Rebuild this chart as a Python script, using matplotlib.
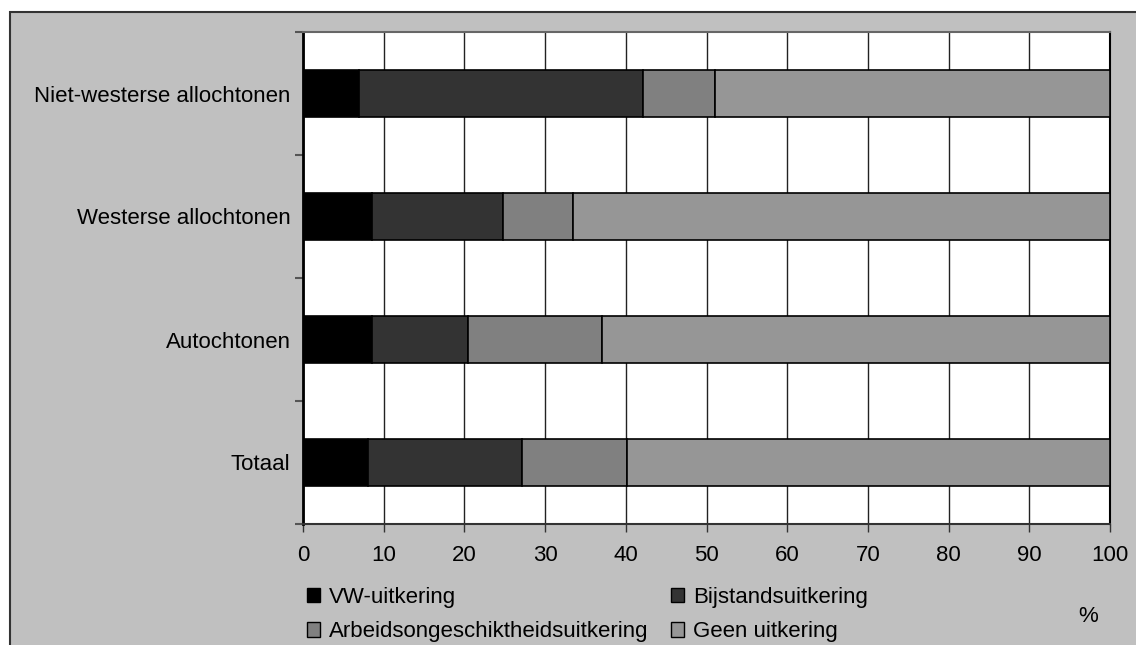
import matplotlib
matplotlib.use("Agg")
import matplotlib.pyplot as plt
from matplotlib.patches import Rectangle, Patch
import numpy as np

plt.rcParams['font.family'] = ['Liberation Sans', 'DejaVu Sans']

categories = ["Totaal", "Autochtonen", "Westerse allochtonen", "Niet-westerse allochtonen"]
series_names = ["VW-uitkering", "Bijstandsuitkering", "Arbeidsongeschiktheidsuitkering", "Geen uitkering"]
ww = [8.1, 8.6, 8.6, 7.0]
bijstand = [19.0, 11.8, 16.2, 35.1]
arbeid = [13.1, 16.6, 8.7, 8.9]
geen = [59.8, 63.0, 66.5, 49.0]
x_ticks = [0, 10, 20, 30, 40, 50, 60, 70, 80, 90, 100]
colors = ["#000000", "#333333", "#808080", "#969696"]

W, H = 1136, 645
fig = plt.figure(figsize=(W / 100, H / 100), dpi=100, facecolor="white")

# grey chart area with border
fig.patches.append(Rectangle((10 / W, -0.1), 1.2, 1 - 12 / H + 0.1, transform=fig.transFigure,
                             facecolor="#C0C0C0", edgecolor="#333333", linewidth=1.5, zorder=-10))

ax = fig.add_axes([303 / W, 1 - 524 / H, (1110 - 303) / W, (524 - 32) / H])
ax.set_zorder(5)
ax.set_facecolor("white")

y = np.arange(len(categories))
left = np.zeros(len(categories))
handles = []
for vals, c, name in zip([ww, bijstand, arbeid, geen], colors, series_names):
    ax.barh(y, vals, left=left, height=0.39, color=c, edgecolor="black", linewidth=1.2, zorder=3)
    left += np.array(vals)
    handles.append(Patch(facecolor=c, edgecolor="black", linewidth=1.0, label=name))

ax.set_xlim(0, 100)
ax.set_ylim(-0.5, len(categories) - 0.5)
ax.set_xticks(x_ticks)
ax.set_xticklabels([str(t) for t in x_ticks], fontsize=16)
ax.set_yticks(y)
ax.set_yticklabels(categories, fontsize=16)
ax.tick_params(axis="y", which="major", length=0, pad=9)
ax.set_yticks(np.arange(-0.5, len(categories), 1.0), minor=True)
ax.tick_params(axis="y", which="minor", length=6, width=1.5, color="#555555", direction="out")
ax.tick_params(axis="x", which="major", length=6, width=1.0, color="#333333", direction="out", pad=9)
ax.xaxis.grid(True, color="#222222", linewidth=1.0, zorder=1)
ax.set_axisbelow(True)
ax.spines["left"].set_linewidth(2.0)
ax.spines["left"].set_color("black")
ax.spines["bottom"].set_color("#333333")
ax.spines["bottom"].set_linewidth(1.5)
ax.spines["top"].set_color("#666666")
ax.spines["top"].set_linewidth(1.5)
ax.spines["right"].set_color("black")
ax.spines["right"].set_linewidth(1.5)

order = [0, 2, 1, 3]
fig.legend([handles[i] for i in order], [series_names[i] for i in order], ncol=2,
           loc="upper left", bbox_to_anchor=(307 / W, 1 - 587 / H), frameon=False,
           fontsize=16, handlelength=0.6, handleheight=0.6, handletextpad=0.4,
           columnspacing=1.0, labelspacing=0.6, borderaxespad=0, borderpad=0)

fig.text(1088 / W, 1 - 617 / H, "%", fontsize=16, ha="center", va="center")

fig.savefig("out.png", dpi=100, facecolor=fig.get_facecolor())
